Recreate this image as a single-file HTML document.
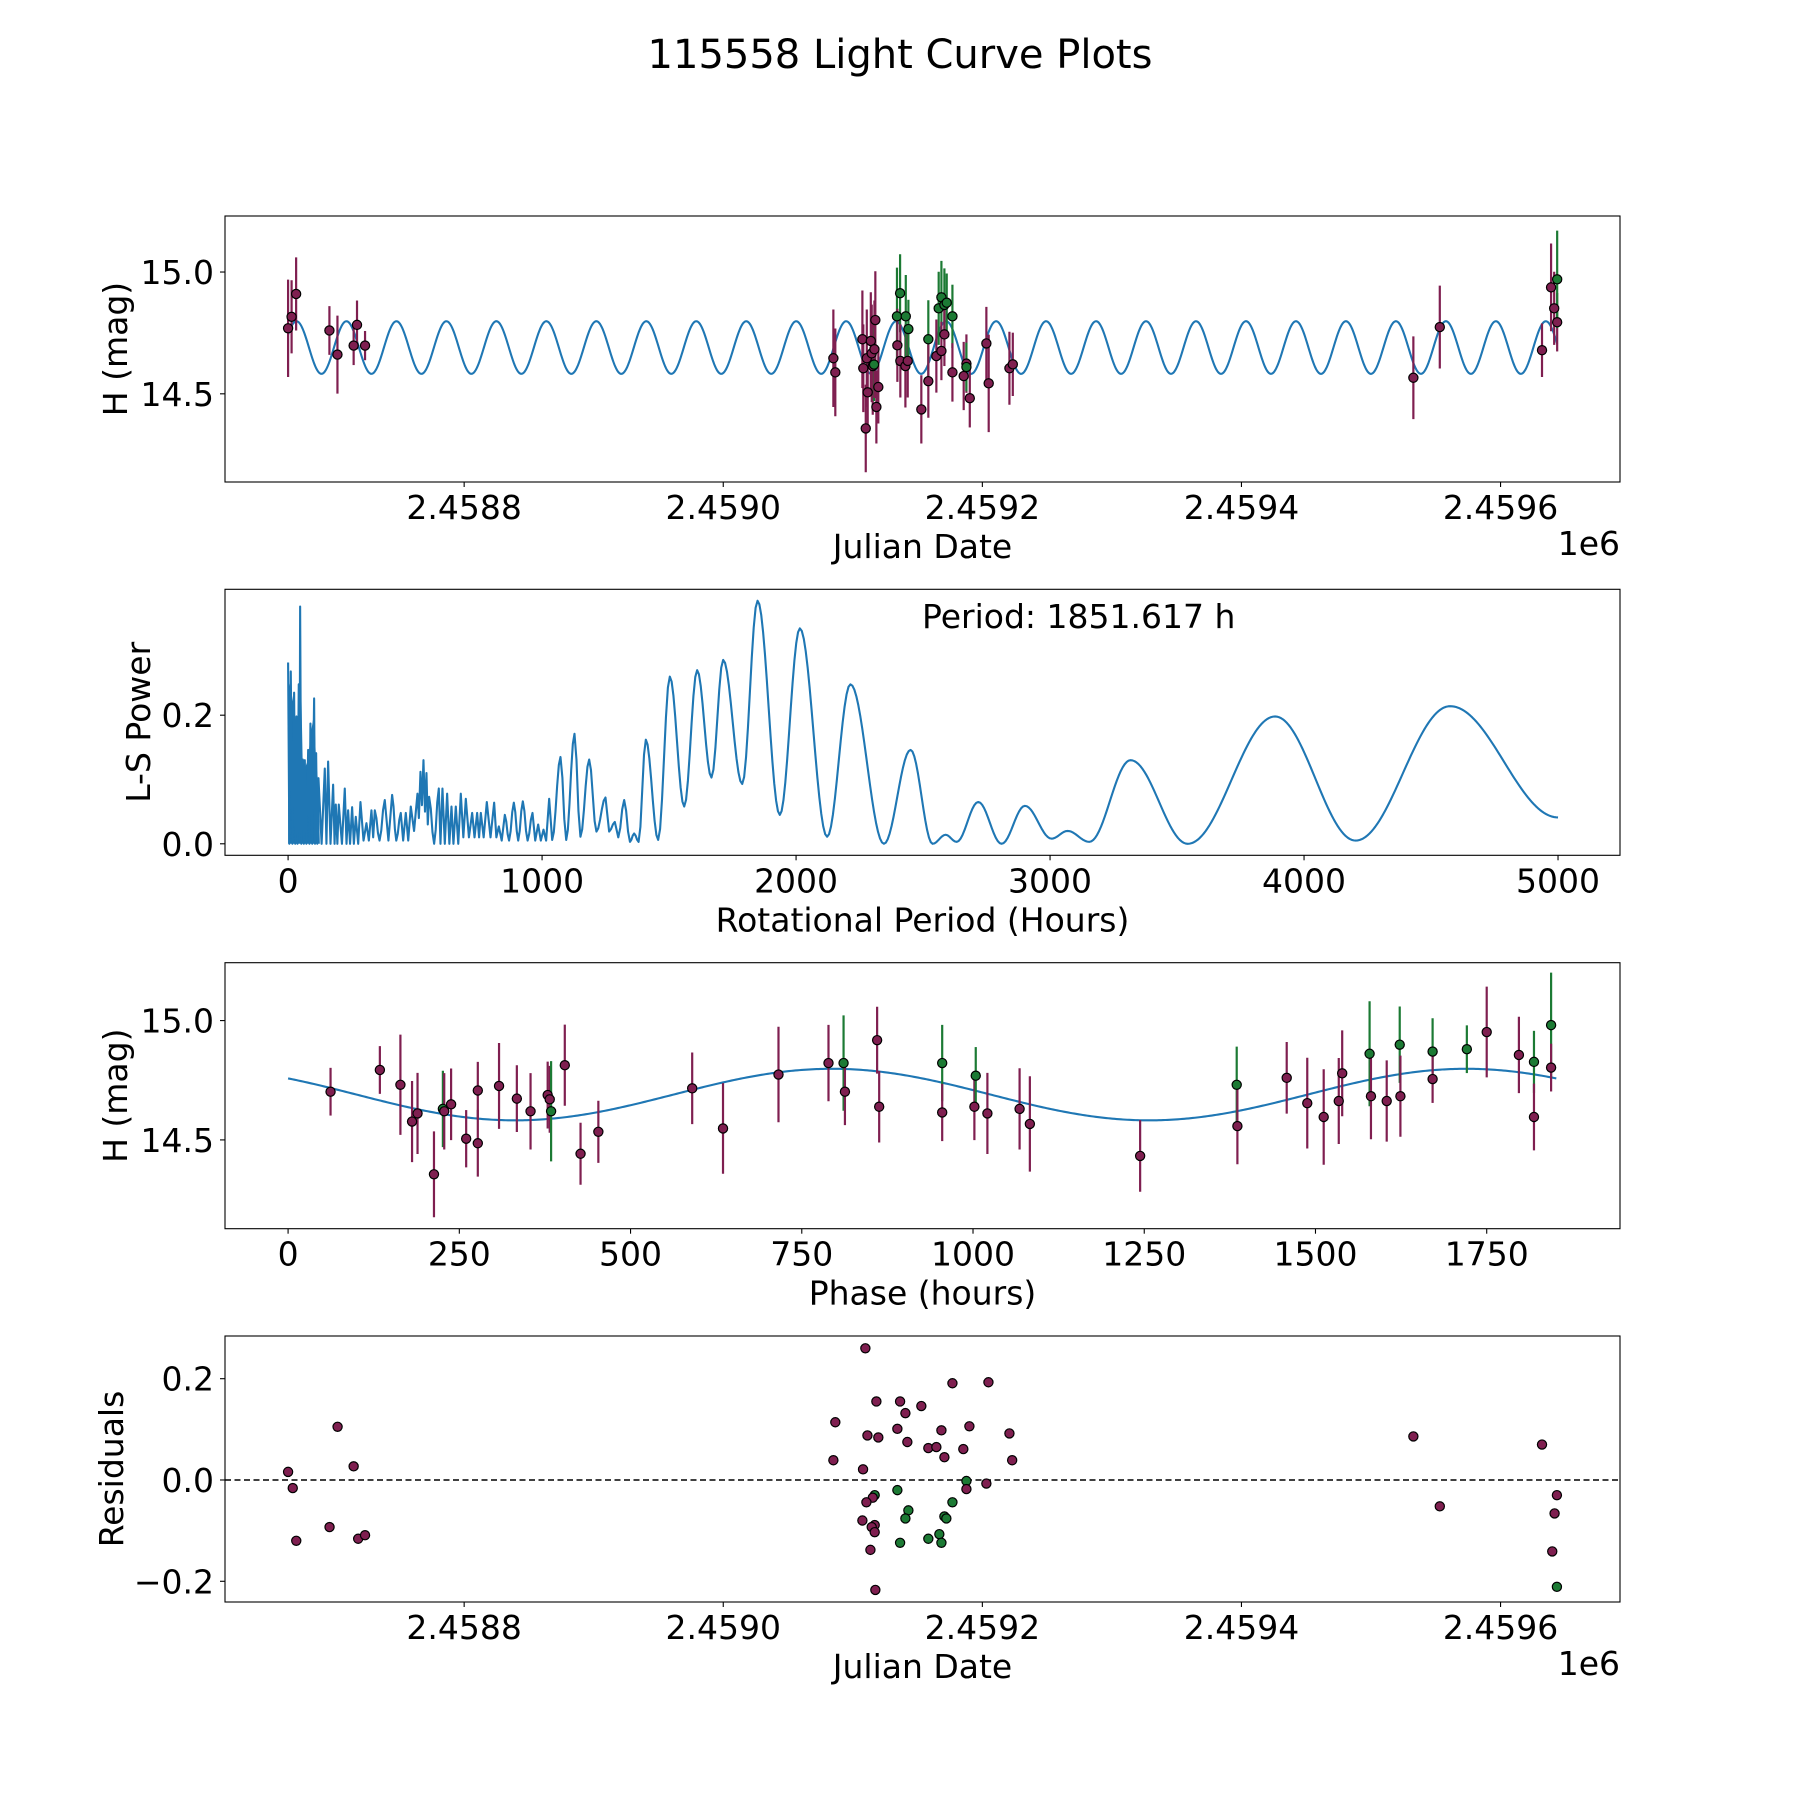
<!DOCTYPE html>
<html><head><meta charset="utf-8"><style>
html,body{margin:0;padding:0;background:#fff;}
svg{display:block;font-family:"DejaVu Sans","Liberation Sans",sans-serif;}
</style></head><body>
<svg id="fig" xmlns="http://www.w3.org/2000/svg" width="1800" height="1800" viewBox="0 0 1800 1800">
<rect x="0" y="0" width="1800" height="1800" fill="#fff"/>
<text x="900" y="68" font-size="40" text-anchor="middle">115558 Light Curve Plots</text>
</svg>
<script>
// ---------- Panel 1 data: light curve ----------
const lcJd = [2458664.1,2458666.8,2458670.3,2458696.0,2458702.2,2458714.7,2458717.3,2458723.5,
2459085.0,2459086.5,2459107.4,2459108.1,2459110.0,2459110.8,2459111.5,2459113.9,2459114.6,2459115.4,2459116.4,2459116.7,2459117.4,2459118.2,2459119.7,
2459134.1,2459134.4,2459136.5,2459136.7,2459140.6,2459140.9,2459142.4,2459142.9,2459152.9,2459158.3,2459158.3,2459164.5,2459166.3,2459168.4,2459168.4,
2459170.7,2459170.7,2459172.5,2459176.9,2459176.9,2459185.6,2459187.7,2459187.7,2459190.3,2459203.1,2459204.9,2459220.9,2459223.5,
2459532.7,2459553.1,2459632.0,2459639.0,2459641.4,2459643.7,2459643.7];
const lcMag = [14.769,14.816,14.910,14.760,14.661,14.698,14.783,14.698,
14.646,14.588,14.724,14.605,14.358,14.646,14.506,14.717,14.666,14.614,14.620,14.683,14.803,14.446,14.528,
14.818,14.699,14.913,14.635,14.614,14.818,14.635,14.766,14.436,14.724,14.552,14.655,14.851,14.896,14.676,
14.865,14.744,14.874,14.818,14.588,14.573,14.624,14.610,14.482,14.707,14.543,14.605,14.621,
14.566,14.774,14.679,14.937,14.851,14.794,14.970];
const lcErr = [0.2,0.15,0.15,0.1,0.16,0.08,0.1,0.06,
0.2,0.18,0.2,0.18,0.18,0.2,0.15,0.2,0.2,0.2,0.15,0.2,0.2,0.15,0.15,
0.2,0.15,0.16,0.15,0.17,0.17,0.15,0.12,0.14,0.16,0.15,0.15,0.15,0.15,0.12,
0.15,0.13,0.12,0.13,0.12,0.14,0.12,0.1,0.12,0.15,0.2,0.15,0.13,
0.17,0.17,0.11,0.18,0.15,0.12,0.2];
const lcBand = ['p','p','p','p','p','p','p','p',
'p','p','p','p','p','p','p','p','p','p','g','p','p','p','p',
'g','p','g','p','p','g','p','g','p','g','p','p','g','g','p',
'g','p','g','g','p','p','p','g','p','p','p','p','p',
'p','p','p','p','p','p','g'];
// model parameters
const modelMean = 14.69, modelAmp = 0.108, modelPeriodH = 925.8, modelEpochJd = 2459094.9, modelPhasePeak = 1720;

// ---------- Panel 2 data: periodogram ----------
const lsPeriod = [0,5,10.6,17,23.7,28,32.9,37,42,45,47.4,52,57.9,62,65.8,72,79,84,88,95,102.5,106,110.4,115,119.6,132,144.5,151,157.6,167,177.3,183,187.8,194,199.6,212,223.2,230,236.3,244,252.1,259,266.5,276,284.9,297,308.5,318,328.2,335,341.4,360,380.7,395,409.6,426,443.7,453,463.4,473,483.1,496,509.4,515,521.2,527,533,539,544.8,550,555.3,575,593.4,600,607.8,617,626.2,635,643.3,651,660.3,670,680,690,699.7,712,724.7,734,744.3,752,758.8,770,782.4,797,811.3,820,829.7,841,853.3,870,888.8,906,924.2,943,962.3,973,984.6,995,1005.6,1016,1027.9,1039.7,1072.5,1095,1127.6,1151,1185.4,1214,1249.7,1264,1286.4,1300,1323.2,1346,1362.5,1380,1408.5,1457,1503,1559.6,1610.5,1667,1713,1788,1848.3,1936,2015,2122.3,2214,2346,2450.9,2537.7,2588.8,2632,2717.4,2809.2,2901,3006,3069,3154.4,3317,3542,3886,4203,4575,5000];
const lsPower = [0.282,0,0.268,0,0.235,0,0.198,0,0.248,0.02,0.369,0,0.131,0,0.130,0,0.146,0,0.187,0,0.226,0,0.141,0,0.102,0,0.117,0,0.128,0,0.092,0,0.061,0,0.061,0,0.086,0,0.052,0,0.057,0,0.042,0,0.065,0.005,0.032,0.005,0.052,0.01,0.052,0.005,0.068,0.005,0.076,0.005,0.048,0.005,0.048,0.005,0.058,0.02,0.078,0.04,0.112,0.06,0.130,0.05,0.110,0.03,0.073,0,0.086,0,0.086,0,0.078,0,0.058,0,0.058,0,0.078,0.01,0.070,0.01,0.048,0.01,0.048,0.01,0.048,0.01,0.065,0.01,0.064,0.01,0.027,0.005,0.045,0.005,0.064,0.005,0.066,0.005,0.048,0.005,0.030,0.005,0.022,0.005,0.070,0.006,0.135,0.006,0.171,0.011,0.131,0.019,0.072,0.019,0.034,0.01,0.068,0.003,0.016,0.003,0.162,0.006,0.260,0.058,0.270,0.103,0.286,0.093,0.378,0.045,0.335,0.011,0.248,0.0,0.146,0.0,0.014,0.003,0.065,0.0,0.059,0.008,0.020,0.003,0.130,0.0,0.198,0.005,0.214,0.041];
const bestPeriodText = "Period: 1851.617 h";

// ---------- Panel 3 data: phased ----------
const phPhase = [62,134,164,181,189,213,226,228,238,260,277,277,308,334,354,379,382,384,404,427,453,590,635,716,789,811,813,860,863,955,955,1002,1004,1021,1068,1083,1244,1385,1386,1458,1488,1512,1534,1539,1579,1581,1604,1623,1624,1671,1671,1721,1750,1797,1819,1819,1844,1844];
const phMag = [14.702,14.793,14.731,14.577,14.611,14.356,14.63,14.620,14.649,14.505,14.486,14.707,14.726,14.673,14.620,14.688,14.670,14.620,14.813,14.442,14.534,14.716,14.548,14.774,14.822,14.822,14.702,14.918,14.639,14.822,14.615,14.639,14.769,14.611,14.630,14.567,14.433,14.731,14.558,14.760,14.654,14.596,14.663,14.779,14.861,14.683,14.663,14.899,14.683,14.870,14.755,14.880,14.952,14.856,14.827,14.596,14.981,14.803];
const phErr = [0.1,0.1,0.21,0.17,0.17,0.18,0.16,0.16,0.15,0.12,0.14,0.12,0.18,0.14,0.16,0.14,0.14,0.21,0.17,0.13,0.13,0.15,0.19,0.2,0.16,0.2,0.14,0.14,0.15,0.16,0.12,0.14,0.12,0.17,0.17,0.2,0.15,0.16,0.16,0.15,0.19,0.2,0.18,0.18,0.22,0.18,0.17,0.16,0.17,0.14,0.1,0.1,0.19,0.16,0.13,0.14,0.22,0.1];
const phBand = ['p','p','p','p','p','p','g','p','p','p','p','p','p','p','p','p','p','g','p','p','p','p','p','p','p','g','p','p','p','g','p','p','g','p','p','p','p','g','p','p','p','p','p','p','g','p','p','g','p','g','p','g','p','p','g','p','g','p'];

// ---------- Panel 4 data: residuals ----------
const resJd = [2458664.1,2458667.7,2458670.4,2458696.1,2458702.3,2458714.7,2458718.2,2458723.5,
2459109.7,2459176.9,2459204.7,2459118.2,2459136.5,2459140.6,2459152.9,2459086.5,2459134.4,2459168.4,2459190.0,2459220.9,2459111.3,2459119.7,2459142.1,2459158.3,2459164.5,2459185.3,2459170.7,2459223.0,2459085.0,2459107.9,
2459187.7,2459203.1,2459187.7,2459134.4,2459116.9,2459115.4,2459110.5,2459176.9,2459142.9,2459140.6,2459170.7,2459172.2,2459107.4,2459116.9,2459114.6,2459116.9,2459166.8,2459158.3,2459136.5,2459168.4,2459113.6,2459117.4,
2459532.7,2459553.1,2459632.0,2459639.9,2459641.7,2459643.5,2459643.5];
const resVal = [0.016,-0.016,-0.120,-0.093,0.105,0.027,-0.116,-0.109,
0.260,0.191,0.193,0.155,0.155,0.132,0.146,0.114,0.101,0.098,0.106,0.092,0.088,0.084,0.075,0.063,0.065,0.061,0.045,0.039,0.039,0.021,
-0.002,-0.007,-0.018,-0.020,-0.030,-0.035,-0.044,-0.044,-0.060,-0.076,-0.072,-0.076,-0.080,-0.089,-0.093,-0.103,-0.107,-0.116,-0.124,-0.124,-0.138,-0.217,
0.086,-0.052,0.070,-0.141,-0.066,-0.030,-0.211];
const resBand = ['p','p','p','p','p','p','p','p',
'p','p','p','p','p','p','p','p','p','p','p','p','p','p','p','p','p','p','p','p','p','p',
'g','p','p','g','g','p','p','g','g','g','g','g','p','p','p','p','g','g','g','g','p','p',
'p','p','p','p','p','p','g'];

// ---------- Tick arrays ----------
const jdTicks = [2458800,2459000,2459200,2459400,2459600];
const jdTickLabels = ["2.4588","2.4590","2.4592","2.4594","2.4596"];
const magTicks = [14.5,15.0];
const magTickLabels = ["14.5","15.0"];
const lsXTicks = [0,1000,2000,3000,4000,5000];
const lsXTickLabels = ["0","1000","2000","3000","4000","5000"];
const lsYTicks = [0.0,0.2];
const lsYTickLabels = ["0.0","0.2"];
const phTicks = [0,250,500,750,1000,1250,1500,1750];
const phTickLabels = ["0","250","500","750","1000","1250","1500","1750"];
const resTicks = [-0.2,0.0,0.2];
const resTickLabels = ["\u22120.2","0.0","0.2"];

// ---------- rendering ----------
const NS = "http://www.w3.org/2000/svg";
const svg = document.getElementById('fig');
const COL = {p:'#7f1f50', g:'#1c7a34'};
const BLUE = '#1f77b4';
const FS = 33;
function mk(tag, attrs, parent){
  const e = document.createElementNS(NS, tag);
  for (const k in attrs) e.setAttribute(k, attrs[k]);
  (parent||svg).appendChild(e);
  return e;
}
function scale(d0,d1,p0,p1){ return v => p0 + (v-d0)*(p1-p0)/(d1-d0); }
const L = 225, R = 1620, H = 266;
const tops = [216, 589.3, 962.7, 1336];

function axesFrame(g, top, xs, ys, xt, xtl, yt, ytl, xlabel, ylabel, ylabelX, namePrefix){
  const b = top + H;
  xt.forEach((v,i)=>{
    const x = xs(v);
    const t = mk('line',{x1:x,x2:x,y1:b,y2:b+5,stroke:'#000','stroke-width':1.1},g);
    
    
    const tl = mk('text',{x:x,y:b+37,'font-size':FS,'text-anchor':'middle'},g);
    tl.textContent = xtl[i];
    
    
  });
  yt.forEach((v,i)=>{
    const y = ys(v);
    const t = mk('line',{x1:L-5,x2:L,y1:y,y2:y,stroke:'#000','stroke-width':1.1},g);
    
    
    const tl = mk('text',{x:L-11,y:y+12,'font-size':FS,'text-anchor':'end'},g);
    tl.textContent = ytl[i];
    
    
  });
  const xl = mk('text',{x:(L+R)/2,y:b+76,'font-size':FS,'text-anchor':'middle'},g);
  xl.textContent = xlabel;
  
  
  const yl = mk('text',{x:0,y:12,'font-size':FS,'text-anchor':'middle',transform:`translate(${ylabelX},${top+H/2}) rotate(-90)`},g);
  yl.textContent = ylabel;
  
  
}
function frameRect(g, top, name){
  const r = mk('rect',{x:L,y:top,width:R-L,height:H,fill:'none',stroke:'#000','stroke-width':1.1},g);
  
  
}
function clipFor(id, top){
  let defs = svg.querySelector('defs') || mk('defs',{});
  const c = mk('clipPath',{id:id},defs);
  mk('rect',{x:L,y:top,width:R-L,height:H},c);
  return 'url(#'+id+')';
}
function errPoints(g, xs, ys, X, Y, E, B, name){
  const bars = mk('g',{},g);
  
  
  X.forEach((x,i)=>{
    const l = mk('line',{x1:xs(x),x2:xs(x),y1:ys(Y[i]-E[i]),y2:ys(Y[i]+E[i]),stroke:COL[B[i]],'stroke-width':2.2},bars);
    
    
  });
  const pts = mk('g',{},g);
  
  
  X.forEach((x,i)=>{
    const c = mk('circle',{cx:xs(x),cy:ys(Y[i]),r:4.6,fill:COL[B[i]],stroke:'#000','stroke-width':1.2},pts);
    
    
  });
}

// Panel 1
(function(){
  const top = tops[0];
  const g = mk('g',{});  
  const xs = scale(2458615.4, 2459692.2, L, R);
  const ys = scale(14.138, 15.23, top+H, top);
  const cp = clipFor('c1', top);
  const inner = mk('g',{'clip-path':cp},g);
  const j0 = Math.min(...lcJd), j1 = Math.max(...lcJd);
  let d = '';
  const N = 1400;
  for (let k=0;k<=N;k++){
    const jd = j0 + (j1-j0)*k/N;
    const m = modelMean + modelAmp*Math.cos(2*Math.PI*(jd-modelEpochJd)*24/modelPeriodH);
    d += (k?'L':'M') + xs(jd).toFixed(2)+','+ys(m).toFixed(2);
  }
  const p = mk('path',{d:d,fill:'none',stroke:BLUE,'stroke-width':2.1},inner);
  
  
  errPoints(inner, xs, ys, lcJd, lcMag, lcErr, lcBand, 'light-curve');
  frameRect(g, top, 'light-curve-axes');
  axesFrame(g, top, xs, ys, jdTicks, jdTickLabels, magTicks, magTickLabels, 'Julian Date', 'H (mag)', 115, 'light-curve');
  const off = mk('text',{x:R,y:555,'font-size':FS,'text-anchor':'end'},g);
  off.textContent = '1e6';
  
  
})();

// Panel 2
(function(){
  const top = tops[1];
  const g = mk('g',{});  
  const xs = scale(-248.4, 5244, L, R);
  const ys = scale(-0.0179, 0.3958, top+H, top);
  const cp = clipFor('c2', top);
  const inner = mk('g',{'clip-path':cp},g);
  let d = '', fillD = '';
  for (let i=0;i<lsPeriod.length;i++){
    if (i===0){ d = 'M'+xs(lsPeriod[0]).toFixed(2)+','+ys(lsPower[0]).toFixed(2); continue; }
    const a = lsPeriod[i-1], b = lsPeriod[i], pa = lsPower[i-1], pb = lsPower[i];
    const steps = Math.max(2, Math.ceil((xs(b)-xs(a))/2));
    for (let s=1;s<=steps;s++){
      const t = s/steps;
      const v = pa + (pb-pa)*(1-Math.cos(Math.PI*t))/2;
      d += 'L'+xs(a+(b-a)*t).toFixed(2)+','+ys(v).toFixed(2);
    }
  }
  const dense = [];
  lsPeriod.forEach((pp,i)=>{ if (pp<=125 && lsPower[i]>0) dense.push([pp,lsPower[i]]); });
  fillD = 'M'+xs(0)+','+ys(0);
  dense.forEach(q=>{ fillD += 'L'+xs(q[0]).toFixed(2)+','+ys(q[1]*0.9).toFixed(2); });
  fillD += 'L'+xs(125)+','+ys(0)+'Z';
  const f = mk('path',{d:fillD,fill:BLUE,stroke:'none'},inner);
  
  
  const p = mk('path',{d:d,fill:'none',stroke:BLUE,'stroke-width':2.1,'stroke-linejoin':'round'},inner);
  
  
  frameRect(g, top, 'periodogram-axes');
  axesFrame(g, top, xs, ys, lsXTicks, lsXTickLabels, lsYTicks, lsYTickLabels, 'Rotational Period (Hours)', 'L-S Power', 138, 'periodogram');
  const t = mk('text',{x:922,y:628,'font-size':FS},g);
  t.textContent = bestPeriodText;
  
  
})();

// Panel 3
(function(){
  const top = tops[2];
  const g = mk('g',{});  
  const xs = scale(-92.1, 1944.6, L, R);
  const ys = scale(14.128, 15.2425, top+H, top);
  const cp = clipFor('c3', top);
  const inner = mk('g',{'clip-path':cp},g);
  let d = '';
  const per = 1851.617, N = 600;
  for (let k=0;k<=N;k++){
    const ph = per*k/N;
    const m = modelMean + modelAmp*Math.cos(2*Math.PI*(ph-modelPhasePeak)/modelPeriodH);
    d += (k?'L':'M') + xs(ph).toFixed(2)+','+ys(m).toFixed(2);
  }
  const p = mk('path',{d:d,fill:'none',stroke:BLUE,'stroke-width':2.1},inner);
  
  
  errPoints(inner, xs, ys, phPhase, phMag, phErr, phBand, 'phase');
  frameRect(g, top, 'phase-axes');
  axesFrame(g, top, xs, ys, phTicks, phTickLabels, magTicks, magTickLabels, 'Phase (hours)', 'H (mag)', 115, 'phase');
})();

// Panel 4
(function(){
  const top = tops[3];
  const g = mk('g',{});  
  const xs = scale(2458615.4, 2459692.2, L, R);
  const ys = scale(-0.2409, 0.2843, top+H, top);
  const cp = clipFor('c4', top);
  const inner = mk('g',{'clip-path':cp},g);
  const z = mk('line',{x1:L,x2:R,y1:ys(0),y2:ys(0),stroke:'#000','stroke-width':1.6,'stroke-dasharray':'6,3.5'},inner);
  
  
  const pts = mk('g',{},inner);
  
  
  resJd.forEach((x,i)=>{
    const c = mk('circle',{cx:xs(x),cy:ys(resVal[i]),r:4.6,fill:COL[resBand[i]],stroke:'#000','stroke-width':1.2},pts);
    
    
  });
  frameRect(g, top, 'residuals-axes');
  axesFrame(g, top, xs, ys, jdTicks, jdTickLabels, resTicks, resTickLabels, 'Julian Date', 'Residuals', 111, 'residuals');
  const off = mk('text',{x:R,y:1675,'font-size':FS,'text-anchor':'end'},g);
  off.textContent = '1e6';
  
  
})();
</script>
</body></html>
